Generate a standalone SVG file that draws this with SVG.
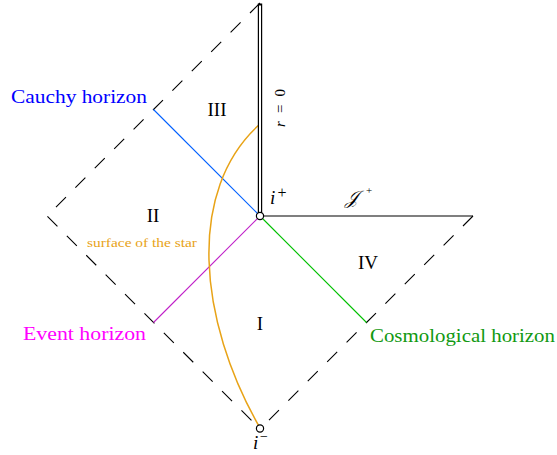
<svg xmlns="http://www.w3.org/2000/svg" width="557" height="455" viewBox="0 0 557 455">
<style>
text{font-family:"Liberation Serif","DejaVu Serif",serif;fill:#000}
.dash{fill:none;stroke:#000;stroke-width:1.1;stroke-dasharray:14.14 13.3}
.solid{fill:none;stroke:#000;stroke-width:1.1}
.pt{fill:#fff;stroke:#000;stroke-width:1.2}
.lbl{font-size:18px}
.reg{font-size:19px;text-anchor:middle}
</style>
<rect width="557" height="455" fill="#fff"/>
<g id="connectors">
<path class="dash" d="M260,3 L47,216 L260,429"/>
<path class="dash" d="M473,216 L260,429"/>
<line class="solid" x1="260" y1="216" x2="473" y2="216"/>
<line id="cauchy" x1="153.5" y1="109.5" x2="260" y2="216" stroke="#0060ff" stroke-width="1.1"/>
<line id="event" x1="153.5" y1="322.5" x2="260" y2="216" stroke="#c020c8" stroke-width="1.1"/>
<line id="cosmo" x1="366.5" y1="322.5" x2="260" y2="216" stroke="#00c000" stroke-width="1.1"/>
<path id="star" d="M260,428 C198,320 186,190 260,124" fill="none" stroke="#e8a317" stroke-width="1.5"/>
<g id="singularity">
<line x1="260" y1="3.5" x2="260" y2="216" stroke="#000" stroke-width="4.4"/>
<line x1="260" y1="5.5" x2="260" y2="216" stroke="#fff" stroke-width="2"/>
</g>
</g>
<g id="i-plus"><circle class="pt" cx="260" cy="216" r="3.6"/><text x="270" y="204" font-size="19" font-style="italic">i</text><text x="277.5" y="198" font-size="16">+</text></g>
<g id="i-minus"><circle class="pt" cx="260" cy="428.5" r="3.6"/><text x="253" y="449" font-size="19" font-style="italic">i</text><text x="260" y="441" font-size="14">−</text></g>
<g id="scri"><text x="345" y="204" font-size="19" font-style="italic">𝒥</text><text x="366" y="194" font-size="11">+</text></g>
<g id="r0"><text transform="translate(285,108) rotate(-90)" font-size="15" text-anchor="middle" textLength="38" lengthAdjust="spacing"><tspan font-style="italic">r</tspan> = 0</text></g>
<g id="region-III"><text class="reg" x="217" y="116">III</text></g>
<g id="region-II"><text class="reg" x="153" y="222">II</text></g>
<g id="region-IV"><text class="reg" x="368" y="269">IV</text></g>
<g id="region-I"><text class="reg" x="260" y="330">I</text></g>
<g id="label-cauchy"><text class="lbl" x="11" y="103" textLength="136" lengthAdjust="spacingAndGlyphs" style="fill:#0000ff">Cauchy horizon</text></g>
<g id="label-event"><text class="lbl" x="23" y="340" textLength="123" lengthAdjust="spacingAndGlyphs" style="fill:#ff00ff">Event horizon</text></g>
<g id="label-cosmo"><text class="lbl" x="370" y="342" textLength="185" lengthAdjust="spacingAndGlyphs" style="fill:#119911">Cosmological horizon</text></g>
<g id="label-star"><text x="87" y="247" font-size="12" textLength="110" lengthAdjust="spacingAndGlyphs" style="fill:#e8a317">surface of the star</text></g>
</svg>
